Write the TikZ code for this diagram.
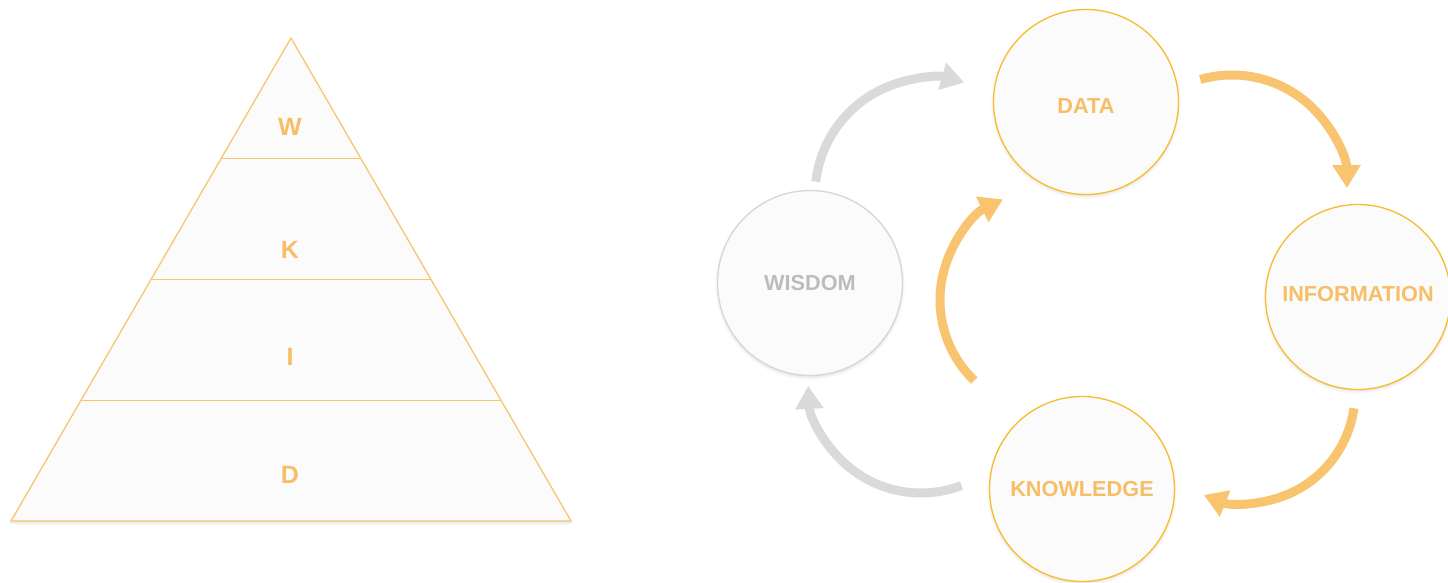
\documentclass[tikz,border=0pt]{standalone}
\usepackage{fontspec}
\setmainfont{Liberation Sans}
\usetikzlibrary{arrows.meta,calc,shadows.blur}

\definecolor{ringgold}{RGB}{248,188,44}
\definecolor{edgeorange}{RGB}{248,198,112}
\definecolor{arroworange}{RGB}{248,196,112}
\definecolor{textorange}{RGB}{247,190,102}
\definecolor{arrowgray}{RGB}{218,218,218}
\definecolor{ringgray}{RGB}{214,214,214}
\definecolor{textgray}{RGB}{188,188,188}
\definecolor{paperfill}{RGB}{251,251,251}

\tikzset{
  stage/.style={circle, minimum size=185pt, inner sep=0pt, fill=paperfill,
    line width=1.3pt, font=\bfseries\fontsize{21.7}{21.7}\selectfont,
    blur shadow={shadow xshift=0pt, shadow yshift=-2pt, shadow blur radius=3pt,
      shadow opacity=12}},
  hotstage/.style={stage, draw=ringgold, text=textorange},
  coldstage/.style={stage, draw=ringgray, text=textgray},
  cycle/.style={line width=9pt, -{Triangle[length=23pt,width=27pt]}},
  warmcycle/.style={cycle, draw=arroworange},
  coolcycle/.style={cycle, draw=arrowgray},
  tierlabel/.style={text=textorange, font=\bfseries\fontsize{25}{25}\selectfont},
  tierline/.style={draw=edgeorange, line width=1.3pt}
}

\begin{document}
\begin{tikzpicture}[x=1pt,y=1pt]
\useasboundingbox (0,0) rectangle (1448,-583);

% --- pyramid ---
\coordinate (apex) at (291,-38);
\coordinate (bl) at (11,-521);
\coordinate (br) at (571,-521);
\fill[paperfill, blur shadow={shadow xshift=0pt, shadow yshift=-2pt,
  shadow blur radius=2pt, shadow opacity=12}] (apex) -- (bl) -- (br) -- cycle;
\draw[tierline, line join=miter] (apex) -- (bl) -- (br) -- cycle;
\foreach \t in {0.25,0.5,0.75}
  \draw[tierline] ($(apex)!\t!(bl)$) -- ($(apex)!\t!(br)$);
\node[tierlabel] (tw) at (290,-127) {W};
\node[tierlabel] (tk) at (290,-250) {K};
\node[tierlabel] (ti) at (290,-357) {I};
\node[tierlabel] (td) at (290,-475) {D};

% --- cycle of stages ---
\node[hotstage, text height=23pt] (data)  at (1086,-102) {DATA};
\node[coldstage] (wis)   at (810,-283)  {WISDOM};
\node[hotstage, text depth=6pt]   (info)  at (1358,-297) {INFORMATION};
\node[hotstage]  (know)  at (1082,-489) {KNOWLEDGE};

% arc centres of the curved arrows
\coordinate (cwd) at (932,-195);
\coordinate (cdi) at (1232,-190);
\coordinate (cik) at (1245,-393);
\coordinate (ckw) at (921,-380);
\coordinate (ckd) at (1052,-300);

\draw[coolcycle] ([shift={(173.5:117)}]cwd) arc[start angle=173.5, end angle=74, radius=117];
\draw[warmcycle] ([shift={(106:115)}]cdi) arc[start angle=106, end angle=1, radius=115];
\draw[warmcycle] ([shift={(-8:110)}]cik) arc[start angle=-8, end angle=-112, radius=110];
\draw[coolcycle] ([shift={(-69:113)}]ckw) arc[start angle=-69, end angle=-177, radius=113];
\draw[warmcycle] ([shift={(226:112)}]ckd) arc[start angle=226, end angle=116, radius=112];

\end{tikzpicture}
\end{document}
